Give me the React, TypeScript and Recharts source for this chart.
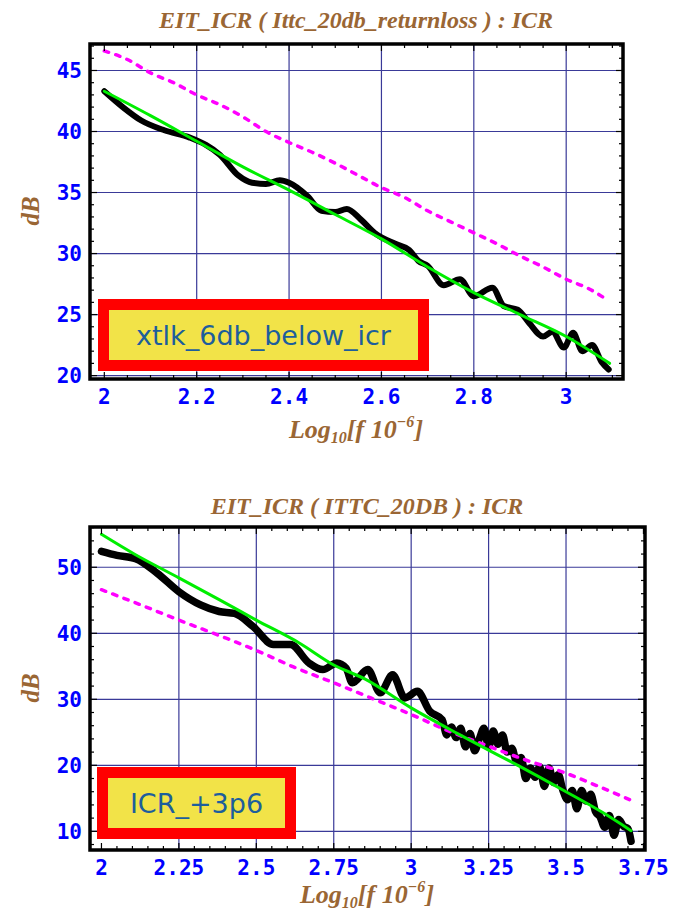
import React from 'react';
import { LineChart, Line, XAxis, YAxis, CartesianGrid, Legend, ReferenceArea, Customized } from 'recharts';

const BROWN = '#9a6634';
const TICK_BLUE = '#0000ff';
const GRID = '#3a3a98';

// upper panel: Ittc_20db_returnloss
const upperXtlkF = [2.0, 2.04, 2.08, 2.13, 2.185, 2.22, 2.25, 2.29, 2.32, 2.35, 2.38, 2.4, 2.44, 2.47, 2.5, 2.525, 2.555, 2.585, 2.63, 2.66, 2.68, 2.7, 2.735, 2.77, 2.8, 2.84, 2.865, 2.895, 2.92, 2.95, 2.97, 2.995, 3.015, 3.035, 3.056, 3.077, 3.092];
const upperXtlkDb = [43.3, 42.0, 40.9, 40.1, 39.5, 38.9, 38.1, 36.4, 35.8, 35.7, 36.0, 35.8, 34.7, 33.5, 33.4, 33.65, 32.8, 31.7, 30.8, 30.3, 29.4, 29.0, 27.4, 27.9, 26.5, 27.2, 25.7, 25.4, 24.3, 23.2, 23.6, 22.3, 23.5, 22.0, 22.5, 21.1, 20.5];
const upperFitF = [2.0, 2.1, 2.2, 2.3, 2.4, 2.5, 2.6, 2.7, 2.8, 2.9, 3.0, 3.094];
const upperFitDb = [43.3, 41.3, 39.2, 37.1, 35.2, 33.2, 31.2, 28.9, 26.8, 25.0, 23.2, 21.0];
const upperLimitF = [2.0, 2.05, 2.1, 2.15, 2.2, 2.25, 2.3, 2.35, 2.4, 2.45, 2.5, 2.55, 2.6, 2.65, 2.7, 2.75, 2.8, 2.85, 2.9, 2.95, 3.0, 3.05, 3.085];
const upperLimitDb = [46.6, 45.9, 44.8, 44.0, 43.0, 42.2, 41.2, 40.0, 39.1, 38.3, 37.4, 36.4, 35.4, 34.6, 33.5, 32.6, 31.7, 30.8, 29.8, 28.9, 27.9, 27.1, 26.3];
const upperXTicks = [2, 2.2, 2.4, 2.6, 2.8, 3];
const upperYTicks = [20, 25, 30, 35, 40, 45];
const upperGridX = [2.2, 2.4, 2.6, 2.8, 3];

// lower panel: ITTC_20DB
const lowerIcrF = [2.0, 2.05, 2.11, 2.18, 2.25, 2.32, 2.38, 2.43, 2.49, 2.555, 2.61, 2.67, 2.715, 2.76, 2.79, 2.81, 2.86, 2.9, 2.94, 2.98, 3.02, 3.06, 3.1, 3.115, 3.13, 3.145, 3.16, 3.175, 3.19, 3.205, 3.22, 3.235, 3.25, 3.265, 3.28, 3.295, 3.31, 3.325, 3.34, 3.355, 3.37, 3.385, 3.4, 3.415, 3.43, 3.445, 3.46, 3.475, 3.49, 3.505, 3.52, 3.535, 3.55, 3.565, 3.58, 3.595, 3.61, 3.625, 3.64, 3.655, 3.67, 3.685, 3.7, 3.71];
const lowerIcrDb = [52.4, 51.8, 51.3, 49.1, 46.3, 44.3, 43.3, 43.0, 41.0, 38.3, 38.3, 35.5, 34.5, 35.5, 34.7, 32.5, 34.5, 31.0, 33.7, 30.2, 31.2, 28.2, 26.9, 24.6, 25.8, 24.2, 25.6, 22.8, 24.8, 22.2, 24.0, 25.6, 22.8, 25.2, 23.2, 24.6, 22.0, 22.6, 20.6, 21.2, 18.0, 19.6, 18.2, 19.8, 16.8, 19.6, 17.4, 18.6, 16.2, 14.8, 16.2, 13.4, 16.2, 14.6, 15.6, 13.0, 12.2, 10.6, 12.4, 9.4, 11.8, 10.8, 10.4, 8.5];
const lowerFitF = [2.0, 2.11, 2.25, 2.38, 2.5, 2.64, 2.75, 2.85, 3.0, 3.15, 3.25, 3.32, 3.5, 3.62, 3.71];
const lowerFitDb = [55.0, 51.9, 48.4, 45.1, 42.0, 38.5, 35.2, 33.1, 28.7, 24.8, 22.3, 20.6, 16.0, 12.8, 10.1];
const lowerLimitF = [2.0, 2.1, 2.25, 2.4, 2.5, 2.62, 2.75, 2.87, 3.0, 3.12, 3.25, 3.37, 3.5, 3.6, 3.705];
const lowerLimitDb = [46.6, 44.8, 42.0, 39.3, 37.4, 34.9, 32.5, 30.2, 27.7, 25.2, 22.9, 20.8, 18.8, 16.9, 14.8];
const lowerXTicks = [2, 2.25, 2.5, 2.75, 3, 3.25, 3.5, 3.75];
const lowerYTicks = [10, 20, 30, 40, 50];
const lowerGridX = [2.25, 2.5, 2.75, 3, 3.25, 3.5];

const pairs = (f: number[], db: number[]) => f.map((x, i) => ({ x, y: db[i] }));

// evenly spaced minor tick positions between lo and hi
const steps = (lo: number, hi: number, step: number) => {
  const out: number[] = [];
  for (let v = lo; v <= hi + 1e-9; v += step) out.push(Math.round(v * 1000) / 1000);
  return out;
};

const isMajor = (v: number, majors: number[]) => majors.some((m) => Math.abs(m - v) < 1e-6);

const tickFont = {
  fill: TICK_BLUE,
  fontFamily: 'DejaVu Sans Mono',
  fontWeight: 'bold' as const,
  fontSize: 21,
};

// bottom edge tick with label, plus the matching inward tick on the top edge
const bottomTick = (majors: number[], plotH: number) => (props: any) => {
  const { x, y, payload } = props;
  const len = isMajor(payload.value, majors) ? 7 : 4;
  const top = y - plotH;
  return (
    <g>
      <line x1={x} x2={x} y1={y} y2={y - len} stroke="#000" strokeWidth={1.2} />
      <line x1={x} x2={x} y1={top} y2={top + len} stroke="#000" strokeWidth={1.2} />
      {len === 7 && (
        <text x={x} y={y + 25} textAnchor="middle" {...tickFont}>
          {payload.value}
        </text>
      )}
    </g>
  );
};

// left edge tick with label, plus the matching inward tick on the right edge
const leftTick = (majors: number[], plotW: number) => (props: any) => {
  const { x, y, payload } = props;
  const len = isMajor(payload.value, majors) ? 7 : 4;
  const right = x + plotW;
  return (
    <g>
      <line x1={x} x2={x + len} y1={y} y2={y} stroke="#000" strokeWidth={1.2} />
      <line x1={right} x2={right - len} y1={y} y2={y} stroke="#000" strokeWidth={1.2} />
      {len === 7 && (
        <text x={x - 8} y={y} dy="0.36em" textAnchor="end" {...tickFont}>
          {payload.value}
        </text>
      )}
    </g>
  );
};

type Box = { left: number; top: number; width: number; height: number };

const LegendBox = ({ label, box }: { label: string; box: Box }) => (
  <div
    style={{
      boxSizing: 'border-box',
      width: box.width,
      height: box.height,
      border: '11px solid #ff0000',
      background: '#f2e348',
      display: 'flex',
      alignItems: 'center',
      justifyContent: 'center',
      fontFamily: 'DejaVu Sans',
      fontSize: 27,
      color: '#1d5e9c',
      whiteSpace: 'nowrap',
    }}
  >
    {label}
  </div>
);

type PanelText = {
  title: string;
  titleX: number;
  titleY: number;
  xTitleY: number;
  yTitleY: number;
};

const PanelLabels = ({ title, titleX, titleY, xTitleY, yTitleY }: PanelText) => {
  const serif = {
    fontFamily: 'Liberation Serif',
    fontStyle: 'italic' as const,
    fontWeight: 'bold' as const,
    fill: BROWN,
  };
  return (
    <g>
      <text x={titleX} y={titleY} textAnchor="middle" fontSize={24} {...serif}>
        {title}
      </text>
      <text x={titleX} y={xTitleY} textAnchor="middle" fontSize={26} {...serif}>
        Log
        <tspan fontSize={16} dy={5}>10</tspan>
        <tspan dy={-5}>[f 10</tspan>
        <tspan fontSize={16} dy={-11}>−6</tspan>
        <tspan dy={11}>]</tspan>
      </text>
      <text
        x={30}
        y={yTitleY}
        textAnchor="middle"
        fontSize={25}
        transform={`rotate(-90 30 ${yTitleY})`}
        dy="0.35em"
        {...serif}
      >
        dB
      </text>
    </g>
  );
};

type PanelProps = {
  top: number;
  height: number;
  margin: { top: number; right: number; left: number; bottom: number };
  xAxisHeight: number;
  xDomain: [number, number];
  yDomain: [number, number];
  xTicks: number[];
  yTicks: number[];
  xMinor: number[];
  yMinor: number[];
  gridX: number[];
  black: { x: number; y: number }[];
  blackWidth: number;
  fit: { x: number; y: number }[];
  limit: { x: number; y: number }[];
  legendLabel: string;
  legendBox: Box;
  text: PanelText;
};

const Y_AXIS_W = 90;

const Panel = (p: PanelProps) => {
  const plotH = p.height - p.margin.top - p.xAxisHeight;
  const plotW = 673 - p.margin.right - Y_AXIS_W;
  return (
    <div style={{ position: 'absolute', left: 0, top: p.top }}>
      <LineChart width={673} height={p.height} margin={p.margin}>
        <CartesianGrid
          horizontalValues={p.yTicks}
          verticalValues={p.gridX}
          stroke={GRID}
          strokeWidth={1.2}
        />
        <XAxis
          type="number"
          dataKey="x"
          domain={p.xDomain}
          allowDataOverflow
          ticks={p.xMinor}
          interval={0}
          height={p.xAxisHeight}
          tickSize={0}
          tickMargin={0}
          tickLine={false}
          axisLine={false}
          tick={bottomTick(p.xTicks, plotH)}
        />
        <YAxis
          type="number"
          domain={p.yDomain}
          allowDataOverflow
          ticks={p.yMinor}
          interval={0}
          width={Y_AXIS_W}
          tickSize={0}
          tickMargin={0}
          tickLine={false}
          axisLine={false}
          tick={leftTick(p.yTicks, plotW)}
        />
        <Line
          data={p.black}
          dataKey="y"
          name={p.legendLabel}
          type="monotone"
          stroke="#000"
          strokeWidth={p.blackWidth}
          strokeLinecap="round"
          strokeLinejoin="round"
          dot={false}
          isAnimationActive={false}
        />
        <Line
          data={p.limit}
          dataKey="y"
          name="limit"
          type="monotone"
          stroke="#ff00ff"
          strokeWidth={3.5}
          strokeDasharray="4.5 7.5"
          strokeLinecap="round"
          dot={false}
          isAnimationActive={false}
        />
        <Line
          data={p.fit}
          dataKey="y"
          name="fit"
          type="monotone"
          stroke="#00ee00"
          strokeWidth={3}
          strokeLinecap="round"
          dot={false}
          isAnimationActive={false}
        />
        {/* frame around the plot region */}
        <ReferenceArea
          x1={p.xDomain[0]}
          x2={p.xDomain[1]}
          y1={p.yDomain[0]}
          y2={p.yDomain[1]}
          fill="none"
          fillOpacity={0}
          stroke="#000"
          strokeWidth={3.5}
          ifOverflow="visible"
        />
        <Legend
          layout="vertical"
          align="center"
          verticalAlign="middle"
          wrapperStyle={{
            left: p.legendBox.left,
            top: p.legendBox.top,
            width: p.legendBox.width,
            height: p.legendBox.height,
          }}
          content={() => <LegendBox label={p.legendLabel} box={p.legendBox} />}
        />
        <Customized component={<PanelLabels {...p.text} />} />
      </LineChart>
    </div>
  );
};

export default function App() {
  return (
    <div style={{ position: 'absolute', left: 0, top: 0, width: 673, height: 913, background: '#fff' }}>
      <Panel
        top={0}
        height={460}
        margin={{ top: 44, right: 50, left: 0, bottom: 0 }}
        xAxisHeight={81}
        xDomain={[1.969, 3.123]}
        yDomain={[19.72, 47.17]}
        xTicks={upperXTicks}
        yTicks={upperYTicks}
        xMinor={steps(2, 3.1, 0.05)}
        yMinor={steps(20, 47, 1)}
        gridX={upperGridX}
        black={pairs(upperXtlkF, upperXtlkDb)}
        blackWidth={6}
        fit={pairs(upperFitF, upperFitDb)}
        limit={pairs(upperLimitF, upperLimitDb)}
        legendLabel="xtlk_6db_below_icr"
        legendBox={{ left: 98, top: 299, width: 331, height: 72 }}
        text={{
          title: 'EIT_ICR ( Ittc_20db_returnloss ) : ICR',
          titleX: 356,
          titleY: 28,
          xTitleY: 438,
          yTitleY: 211,
        }}
      />
      <Panel
        top={460}
        height={453}
        margin={{ top: 67, right: 28, left: 0, bottom: 0 }}
        xAxisHeight={63}
        xDomain={[1.963, 3.755]}
        yDomain={[7.17, 56.1]}
        xTicks={lowerXTicks}
        yTicks={lowerYTicks}
        xMinor={steps(2, 3.75, 0.05)}
        yMinor={steps(8, 56, 2)}
        gridX={lowerGridX}
        black={pairs(lowerIcrF, lowerIcrDb)}
        blackWidth={7.5}
        fit={pairs(lowerFitF, lowerFitDb)}
        limit={pairs(lowerLimitF, lowerLimitDb)}
        legendLabel="ICR_+3p6"
        legendBox={{ left: 97, top: 307, width: 199, height: 72 }}
        text={{
          title: 'EIT_ICR ( ITTC_20DB ) : ICR',
          titleX: 367,
          titleY: 54,
          xTitleY: 443,
          yTitleY: 228,
        }}
      />
    </div>
  );
}
